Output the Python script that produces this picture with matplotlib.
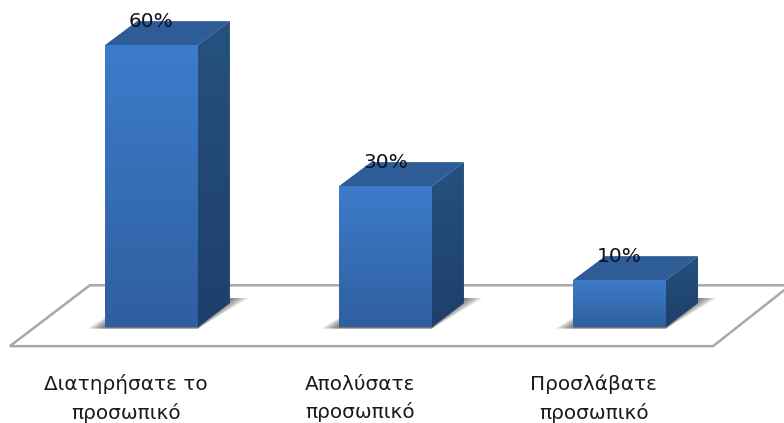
import numpy as np
import matplotlib
matplotlib.use("Agg")
import matplotlib.pyplot as plt
from matplotlib.colors import LinearSegmentedColormap
from matplotlib.patches import Polygon

# - DATA - #
categories = ['Διατηρήσατε το\nπροσωπικό', 'Απολύσατε\nπροσωπικό', 'Προσλάβατε\nπροσωπικό']
values = [60, 30, 10]
value_labels = ['60%', '30%', '10%']

# - STYLE - #
bar_w = 0.397
depth_x = 0.137   # fake 3d offset, x units
depth_y = 5.1     # fake 3d offset, % units
label_shift = -0.11
front_cmap = LinearSegmentedColormap.from_list('f', ['#2f5f9f', '#3d7ccb'])
side_cmap = LinearSegmentedColormap.from_list('s', ['#1e3f6b', '#26517f'])
top_col = '#2d5c96'

fig = plt.figure(figsize=(7.84, 4.23), dpi=100)
ax = fig.add_axes([0, 0, 1, 1])
ax.axis('off')

# floor
floor = [(-0.605, -4.05), (2.40, -4.05), (2.73, 8.9), (-0.263, 8.9)]
ax.add_patch(Polygon(floor, closed=True, fc='white', ec='#a8a8a8', lw=1.8, zorder=1))

x_pos = np.arange(len(values))
vert = np.linspace(0, 1, 64).reshape(-1, 1)

for x, v, lab, cat in zip(x_pos, values, value_labels, categories):
    l, r = x - bar_w / 2, x + bar_w / 2

    # soft shadow on the floor, stacked layers to fade it out
    for k in range(8):
        s = k / 7
        ax.add_patch(Polygon([(l - 0.075 * s, -0.3), (r, -0.3),
                              (r + depth_x + 0.08 * s, 6.2), (l + depth_x, 6.2)],
                             closed=True, fc='black', ec='none', alpha=0.09, zorder=2))

    # top and side of the box
    ax.add_patch(Polygon([(l, v), (r, v), (r + depth_x, v + depth_y), (l + depth_x, v + depth_y)],
                         closed=True, fc=top_col, ec='none', zorder=3))
    side = Polygon([(r, 0), (r + depth_x, depth_y), (r + depth_x, v + depth_y), (r, v)],
                   closed=True, fc='none', ec='none', zorder=3)
    ax.add_patch(side)
    im = ax.imshow(vert, extent=(r, r + depth_x, 0, v + depth_y), origin='lower',
                   aspect='auto', cmap=side_cmap, zorder=3.1)
    im.set_clip_path(side)

    # front with vertical gradient
    front = Polygon([(l, 0), (r, 0), (r, v), (l, v)], closed=True, fc='none', ec='none', zorder=4)
    ax.add_patch(front)
    im = ax.imshow(vert, extent=(l, r, 0, v), origin='lower',
                   aspect='auto', cmap=front_cmap, zorder=4)
    im.set_clip_path(front)

    ax.text(x, v + 5.1, lab, ha='center', va='center', fontsize=14.5, color='#101020', zorder=6)
    ax.text(x + label_shift, -15.2, cat, ha='center', va='center', fontsize=14.4,
            color='#1a1a1a', linespacing=1.55, zorder=6)

# imshow resets the limits
ax.set_xlim(-0.647, 2.703)
ax.set_ylim(-20.4, 69.6)
fig.savefig('out.png', dpi=100)
